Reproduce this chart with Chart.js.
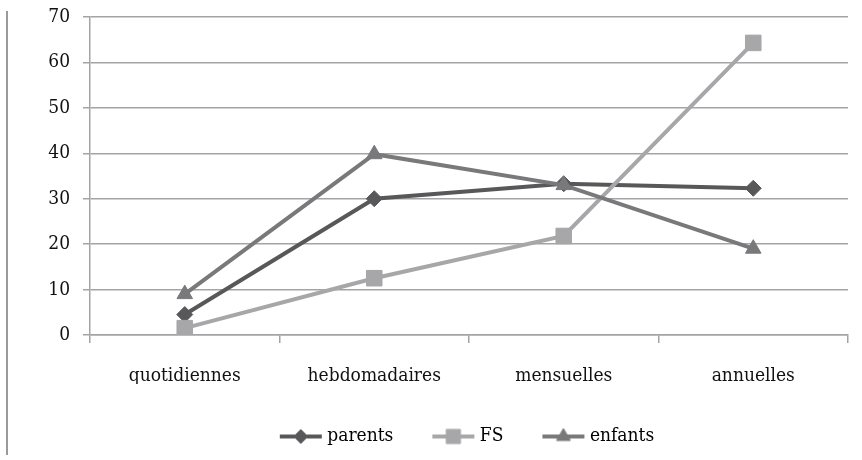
<!DOCTYPE html>
<html>
<head>
<meta charset="utf-8">
<script src="https://cdn.jsdelivr.net/npm/chart.js@4/dist/chart.umd.min.js"></script>
<style>
  html, body { margin: 0; padding: 0; background: #fff; }
  #wrap { position: relative; width: 862px; height: 460px; }
  #edge { position: absolute; left: 6px; top: 11px; width: 2px; height: 444px; background: #9a9a9a; }
</style>
</head>
<body>
<div id="wrap">
  <div id="edge"></div>
  <canvas id="chart" width="862" height="460"></canvas>
</div>
<script>
const categories = ["quotidiennes", "hebdomadaires", "mensuelles", "annuelles"];
const parents = [4.5, 30, 33.3, 32.3];
const fs = [1.5, 12.5, 21.8, 64.3];
const enfants = [9, 39.8, 33, 19];
const yTicks = [0, 10, 20, 30, 40, 50, 60, 70];

const gridGray = "#a4a4a6";
const fontSpec = { family: "'DejaVu Serif Condensed', 'DejaVu Serif'", size: 19 };

// small line+marker picture for the legend
function legendImg(color, style, radius) {
    const c = document.createElement("canvas");
    c.width = 46;
    c.height = 20;
    const g = c.getContext("2d");
    g.strokeStyle = color;
    g.fillStyle = color;
    g.lineWidth = 4;
    g.beginPath();
    g.moveTo(2, 10);
    g.lineTo(44, 10);
    g.stroke();
    g.lineWidth = 1;
    Chart.helpers.drawPoint(g, { pointStyle: style, radius: radius, rotation: 0, borderWidth: 1 }, 23, 10);
    return c;
}

function series(label, data, color, style, radius, order) {
    return {
        label: label,
        data: data,
        borderColor: color,
        backgroundColor: color,
        borderWidth: 4,
        pointStyle: style,
        pointRadius: radius,
        pointHoverRadius: radius,
        pointBorderWidth: 1,
        pointBackgroundColor: color,
        pointBorderColor: color,
        tension: 0,
        order: order,
        legendImage: legendImg(color, style, radius - 1)
    };
}

const ctx = document.getElementById("chart").getContext("2d");
new Chart(ctx, {
    type: "line",
    data: {
        labels: categories,
        datasets: [
            series("parents", parents, "#58585a", "rectRot", 8, 2),
            series("FS", fs, "#a7a7a9", "rect", 11, 1),
            series("enfants", enfants, "#79797b", "triangle", 9, 0)
        ]
    },
    options: {
        responsive: false,
        animation: false,
        events: [],
        layout: { padding: { top: 17, right: 14, bottom: 4, left: 0 } },
        plugins: {
            tooltip: { enabled: false },
            legend: {
                position: "bottom",
                fullSize: false,
                labels: {
                    usePointStyle: true,
                    pointStyleWidth: 34,
                    padding: 43,
                    color: "#111",
                    font: fontSpec,
                    generateLabels: function(chart) {
                        return chart.data.datasets.map((ds, i) => ({
                            text: ds.label,
                            pointStyle: ds.legendImage,
                            fillStyle: ds.borderColor,
                            strokeStyle: ds.borderColor,
                            lineWidth: 0,
                            hidden: false,
                            datasetIndex: i
                        }));
                    }
                }
            }
        },
        scales: {
            x: {
                offset: true,
                grid: {
                    offset: true,
                    drawOnChartArea: false,
                    drawTicks: true,
                    tickLength: 8,
                    color: gridGray,
                    lineWidth: 1.5
                },
                border: { color: gridGray, width: 1.5 },
                ticks: { color: "#111", font: fontSpec, padding: 22 },
                afterFit: function(scale) { scale.height = 49; }
            },
            y: {
                min: 0,
                max: 70,
                afterBuildTicks: function(scale) {
                    scale.ticks = yTicks.map(v => ({ value: v }));
                },
                grid: {
                    color: gridGray,
                    lineWidth: 1.5,
                    tickLength: 7
                },
                border: { color: gridGray, width: 1.5 },
                ticks: { color: "#111", font: fontSpec, padding: 13 },
                afterFit: function(scale) {
                    scale.width = 90;
                    scale.paddingTop = 0;
                    scale.paddingBottom = 0;
                }
            }
        }
    }
});
</script>
</body>
</html>
